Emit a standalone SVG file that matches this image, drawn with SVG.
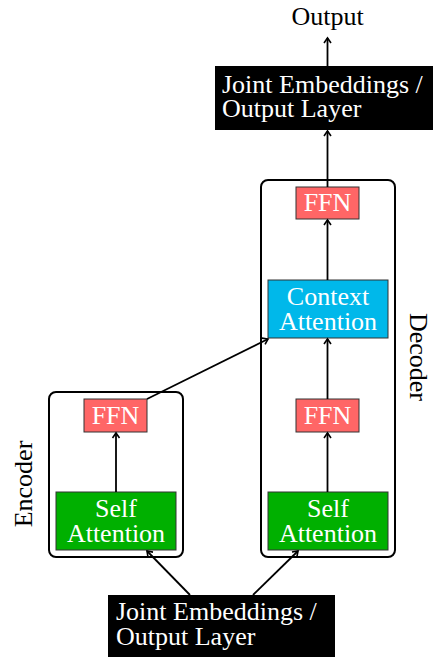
<svg xmlns="http://www.w3.org/2000/svg" width="433" height="657" viewBox="0 0 433 657">
<defs>
<style>
text{font-family:"Liberation Serif","Times New Roman",serif;font-size:26px;}
.w{fill:#fff;}
.k{fill:#000;}
.c{text-anchor:middle;}
.frame{fill:#fff;stroke:#000;stroke-width:2;}
.ffn{fill:#ff6666;stroke:#333;stroke-width:1;}
.sa{fill:#00b000;stroke:#333;stroke-width:1;}
.ca{fill:#00b8ea;stroke:#333;stroke-width:1;}
.je{fill:#000;}
.edge{stroke:#000;stroke-width:1.8;fill:none;marker-end:url(#ah);}
</style>
<marker id="ah" markerWidth="10" markerHeight="10" refX="8" refY="5" orient="auto" markerUnits="userSpaceOnUse">
<path d="M3,1.5 L8,5 L3,8.5" fill="none" stroke="#000" stroke-width="1.6"/>
</marker>
</defs>
<rect width="433" height="657" fill="#fff"/>
<g id="encoder">
<rect class="frame" x="49" y="392" width="134" height="165" rx="7"/>
<text class="k c" transform="translate(32,484) rotate(-90)">Encoder</text>
</g>
<g id="decoder">
<rect class="frame" x="261" y="180" width="134" height="377" rx="7"/>
<text class="k c" transform="translate(410,357) rotate(90)">Decoder</text>
</g>
<g id="output">
<text class="k c" x="327.5" y="25">Output</text>
</g>
<g id="top-embed">
<rect class="je" x="215" y="66" width="218" height="64"/>
<text class="w" x="222" y="93">Joint Embeddings /</text>
<text class="w" x="222" y="117">Output Layer</text>
</g>
<g id="bottom-embed">
<rect class="je" x="108" y="595" width="227" height="62"/>
<text class="w" x="116" y="620">Joint Embeddings /</text>
<text class="w" x="116" y="645">Output Layer</text>
</g>
<g id="enc-sa">
<rect class="sa" x="56" y="492" width="120" height="58"/>
<text class="w c" x="116" y="517">Self</text>
<text class="w c" x="116" y="542">Attention</text>
</g>
<g id="enc-ffn">
<rect class="ffn" x="84" y="399" width="63" height="33"/>
<text class="w c" x="115.5" y="424">FFN</text>
</g>
<g id="dec-sa">
<rect class="sa" x="268" y="492" width="120" height="58"/>
<text class="w c" x="328" y="517">Self</text>
<text class="w c" x="328" y="542">Attention</text>
</g>
<g id="dec-ffn1">
<rect class="ffn" x="296" y="399" width="63" height="33"/>
<text class="w c" x="327.5" y="424">FFN</text>
</g>
<g id="dec-ca">
<rect class="ca" x="268" y="280" width="120" height="58"/>
<text class="w c" x="328" y="305">Context</text>
<text class="w c" x="328" y="330">Attention</text>
</g>
<g id="dec-ffn2">
<rect class="ffn" x="296" y="187" width="63" height="32"/>
<text class="w c" x="327.5" y="211">FFN</text>
</g>
<g id="connectors">
<line class="edge" x1="190" y1="595" x2="147" y2="551"/>
<line class="edge" x1="253" y1="595" x2="298" y2="551"/>
<line class="edge" x1="116" y1="492" x2="116" y2="433"/>
<line class="edge" x1="147" y1="399" x2="268" y2="339"/>
<line class="edge" x1="327.5" y1="492" x2="327.5" y2="433"/>
<line class="edge" x1="327.5" y1="399" x2="327.5" y2="339"/>
<line class="edge" x1="327.5" y1="280" x2="327.5" y2="220"/>
<line class="edge" x1="327.5" y1="187" x2="327.5" y2="131"/>
<line class="edge" x1="327.5" y1="66" x2="327.5" y2="38"/>
</g>
</svg>
